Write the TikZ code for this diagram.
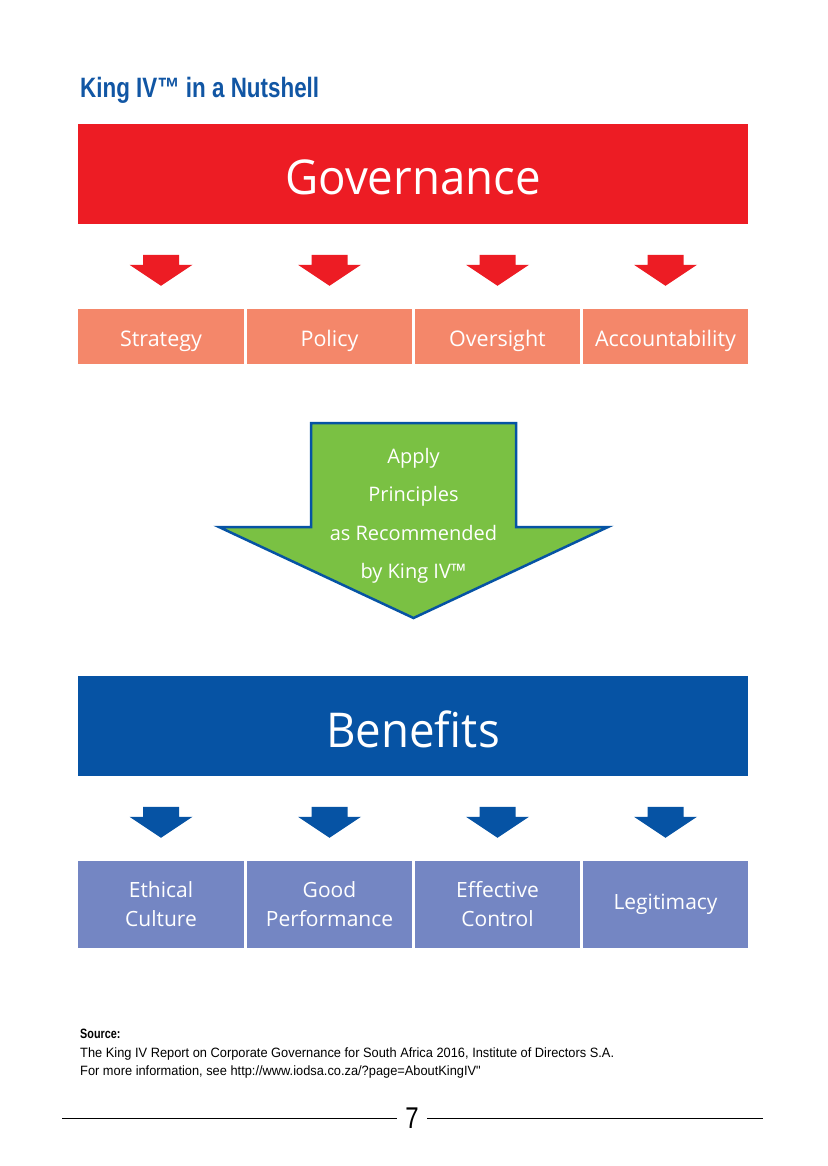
\documentclass[tikz,border=0pt]{standalone}
\usepackage{fontspec}
\setmainfont{Open Sans}
\newfontfamily\bigfont[FakeStretch=0.95]{Open Sans}
\newfontfamily\condfont[FakeStretch=0.8]{Liberation Sans}
\newfontfamily\footfont[FakeStretch=0.95]{Liberation Sans}
\usetikzlibrary{calc}
\definecolor{govred}{HTML}{ED1C24}
\definecolor{salmon}{HTML}{F4876A}
\definecolor{kinggreen}{HTML}{7AC143}
\definecolor{kingblue}{HTML}{0653A4}
\definecolor{titleblue}{HTML}{1156A4}
\definecolor{lav}{HTML}{7486C3}
\begin{document}
\begin{tikzpicture}[x=1pt,y=-1pt,
    bigbar/.style={minimum width=670pt, minimum height=100pt, inner sep=0pt, text=white, text height=42pt, text depth=0pt, font=\bigfont\fontsize{48}{56}\selectfont},
    govcell/.style={fill=salmon, minimum width=165.5pt, minimum height=55pt, inner sep=0pt, text=white, text height=19pt, text depth=0pt, font=\fontsize{21.5}{26}\selectfont},
    bencell/.style={fill=lav, minimum width=165.5pt, minimum height=87pt, inner sep=0pt, text=white, align=center, font=\fontsize{21}{29}\selectfont},
    foot/.style={anchor=west, inner sep=0pt, text height=9.7pt, text depth=0pt, font=\footfont\fontsize{13.5}{16}\selectfont},
    blockarrow/.pic={\fill[#1] (-18,-31) -- (18,-31) -- (18,-21) -- (31.5,-21) -- (0,0) -- (-31.5,-21) -- (-18,-21) -- cycle;}]
    \fill[white] (0,0) rectangle (827,1166);
    \useasboundingbox (0,0) rectangle (827,1166);
    % heading
    \node[anchor=west, inner sep=0pt, text=titleblue, font=\condfont\bfseries\fontsize{28}{32}\selectfont] (title) at (80,90) {King IV™ in a Nutshell};
    % governance
    \node[bigbar, fill=govred] (gov) at (413,174) {Governance};
    \node[govcell] (strat) at (161,336.5) {Strategy};
    \node[govcell] (pol) at (329.5,336.5) {Policy};
    \node[govcell] (over) at (497.5,336.5) {Oversight};
    \node[govcell] (acc) at (665.5,336.5) {Accountability};
    \pic at ($(strat.north)+(0,-23)$) {blockarrow=govred};
    \pic at ($(pol.north)+(0,-23)$) {blockarrow=govred};
    \pic at ($(over.north)+(0,-23)$) {blockarrow=govred};
    \pic at ($(acc.north)+(0,-23)$) {blockarrow=govred};
    % big arrow
    \filldraw[fill=kinggreen, draw=kingblue, line width=2.5pt] (311,423) -- (516,423) -- (516,527) -- (608,527) -- (413.5,618) -- (219,527) -- (311,527) -- cycle;
    \node[text=white, align=center, font=\fontsize{20}{38.5}\selectfont] (apply) at (413.5,516) {Apply\\Principles\\as Recommended\\by King IV™};
    % benefits
    \node[bigbar, fill=kingblue] (ben) at (413,726) {Benefits};
    \node[bencell] (eth) at (161,904.5) {Ethical\\Culture};
    \node[bencell] (good) at (329.5,904.5) {Good\\Performance};
    \node[bencell] (eff) at (497.5,904.5) {Effective\\Control};
    \node[bencell] (leg) at (665.5,904.5) {Legitimacy};
    \pic at ($(eth.north)+(0,-23)$) {blockarrow=kingblue};
    \pic at ($(good.north)+(0,-23)$) {blockarrow=kingblue};
    \pic at ($(eff.north)+(0,-23)$) {blockarrow=kingblue};
    \pic at ($(leg.north)+(0,-23)$) {blockarrow=kingblue};
    % source and page number
    \node[foot, font=\condfont\bfseries\fontsize{13.5}{16}\selectfont] (src) at (80,1034) {Source:};
    \node[foot] (ref) at (80,1053) {The King IV Report on Corporate Governance for South Africa 2016, Institute of Directors S.A.};
    \node[foot] (info) at (80,1071) {For more information, see http://www.iodsa.co.za/?page=AboutKingIV"};
    \node[font=\condfont\fontsize{30}{32}\selectfont] (pnum) at (412,1118) {7};
    \draw[line width=0.8pt] (62,1118) -- ([xshift=-5pt]pnum.west);
    \draw[line width=0.8pt] ([xshift=5pt]pnum.east) -- (763,1118);
\end{tikzpicture}
\end{document}
